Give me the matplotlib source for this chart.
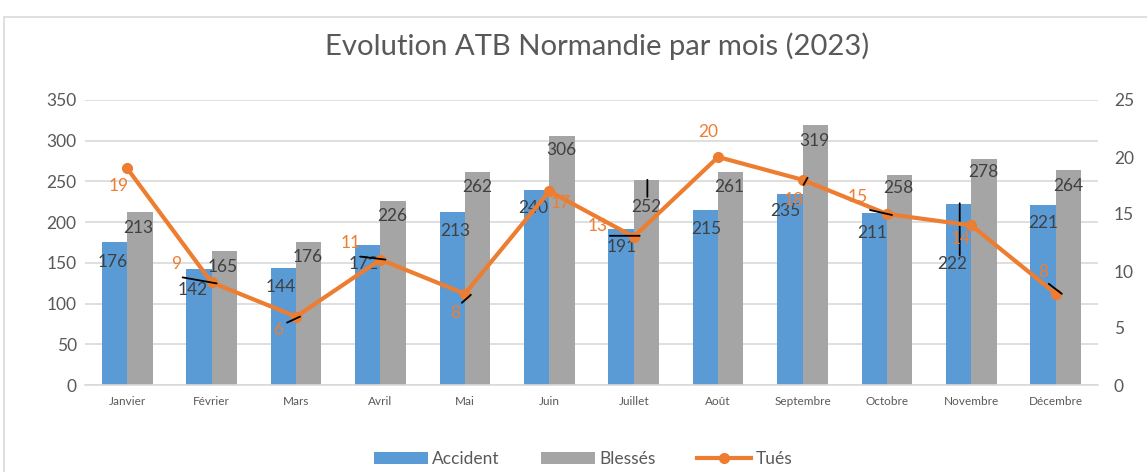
import matplotlib
matplotlib.use("Agg")
import matplotlib.pyplot as plt
import numpy as np
from matplotlib.patches import Rectangle
from matplotlib.transforms import ScaledTranslation
from matplotlib.lines import Line2D
from matplotlib.patches import Patch

plt.rcParams['font.family'] = ['Lato', 'DejaVu Sans']

months = ["Janvier", "Février", "Mars", "Avril", "Mai", "Juin", "Juillet",
          "Août", "Septembre", "Octobre", "Novembre", "Décembre"]
accident = [176, 142, 144, 172, 213, 240, 191, 215, 235, 211, 222, 221]
blesses = [213, 165, 176, 226, 262, 306, 252, 261, 319, 258, 278, 264]
tues = [19, 9, 6, 11, 8, 17, 13, 20, 18, 15, 14, 8]
left_ticks = [0, 50, 100, 150, 200, 250, 300, 350]
right_ticks = [0, 5, 10, 15, 20, 25]
title = "Evolution ATB Normandie par mois (2023)"

BLUE = "#5B9BD5"
GRAY = "#A5A5A5"
ORANGE = "#ED7D31"
LBL = "#404040"
TICK = "#595959"
GRID = "#D9D9D9"

# label offsets in pixels (dx right, dy down) from anchor
acc_off = [(-2, 20), (-6, 21), (-3, 19), (-4, 19), (3, 19), (-3, 18), (1, 18),
           (1, 19), (-5, 17), (-2, 20), (-6, 60), (0, 18)]
bl_off = [(-2, 16), (-2, 16), (-1, 15), (-1, 15), (0, 15), (-1, 14), (0, 27),
          (-2, 15), (-1, 16), (-1, 13), (-1, 13), (0, 16)]
tu_off = [(-9, 18), (-35, -18), (-18, 13), (-30, -17), (-10, 19), (11, 12),
          (-36, -11), (-10, -25), (-9, 20), (-29, -17), (-11, 14), (-13, -22)]
# leader lines: (series, month index, dx1, dy1, dx2, dy2)
leaders = [("t", 1, -29, -5, 5, 1), ("t", 2, -9, 6, 4, 0), ("t", 3, -20, -3, 5, 0),
           ("t", 4, -3, 9, 6, 1), ("t", 6, -24, -1, 6, -1), ("b", 6, 1, 0, 1, 17),
           ("t", 8, 1, 5, 5, -2), ("t", 9, -17, -4, 5, 1), ("a", 10, 1, -1, 1, 51),
           ("t", 11, -7, -10, 6, 0)]

W, H = 1147, 472
fig = plt.figure(figsize=(W / 100, H / 100), dpi=100)
fig.patch.set_facecolor("white")

# chart border
fig.add_artist(Rectangle((4 / W, -0.1), 1.2, 1 - 17 / H + 0.1, transform=fig.transFigure,
                         fill=False, edgecolor=GRID, lw=1.2))

ax = fig.add_axes([85 / W, 1 - 385 / H, (1098 - 85) / W, (385 - 100) / H])
ax2 = ax.twinx()

x = np.arange(len(months))
bw = 0.3
ax.bar(x - bw / 2, accident, bw, color=BLUE, zorder=2, label="Accident")
ax.bar(x + bw / 2, blesses, bw, color=GRAY, zorder=2, label="Blessés")
ax.set_xlim(-0.5, len(months) - 0.5)
ax.set_ylim(0, 350)
ax.set_yticks(left_ticks)
ax.yaxis.grid(True, color=GRID, lw=1.2, zorder=0)
ax.set_axisbelow(True)
for s in ["top", "right", "left"]:
    ax.spines[s].set_visible(False)
ax.spines["bottom"].set_color(GRID)
ax.spines["bottom"].set_linewidth(1.2)
ax.tick_params(axis="y", length=0, labelsize=12.5, labelcolor=TICK, pad=6)
ax.set_xticks(x)
ax.set_xticklabels(months)
ax.tick_params(axis="x", length=0, labelsize=8.5, labelcolor=TICK, pad=8)

ax2.plot(x, tues, color=ORANGE, lw=3, marker="o", markersize=7, zorder=3)
ax2.set_ylim(0, 25)
ax2.set_yticks(right_ticks)
for s in ["top", "right", "left", "bottom"]:
    ax2.spines[s].set_visible(False)
ax2.tick_params(axis="y", length=0, labelsize=12.5, labelcolor=TICK, pad=11.5)

def off_px(dx, dy):
    return (dx, -dy)

for i in range(len(months)):
    dx, dy = acc_off[i]
    ax.annotate(str(accident[i]), xy=(x[i] - bw / 2, accident[i]), xytext=off_px(dx, dy),
                textcoords="offset pixels", ha="center", va="center", fontsize=12.5,
                color=LBL, zorder=5)
    dx, dy = bl_off[i]
    ax.annotate(str(blesses[i]), xy=(x[i] + bw / 2, blesses[i]), xytext=off_px(dx, dy),
                textcoords="offset pixels", ha="center", va="center", fontsize=12.5,
                color=LBL, zorder=5)
    dx, dy = tu_off[i]
    ax2.annotate(str(tues[i]), xy=(x[i], tues[i]), xytext=off_px(dx, dy),
                 textcoords="offset pixels", ha="center", va="center", fontsize=12.5,
                 color=ORANGE, zorder=5)

for ser, i, dx1, dy1, dx2, dy2 in leaders:
    if ser == "t":
        axx, pt = ax2, (x[i], tues[i])
    elif ser == "a":
        axx, pt = ax, (x[i] - bw / 2, accident[i])
    else:
        axx, pt = ax, (x[i] + bw / 2, blesses[i])
    tr = axx.transData + ScaledTranslation(dx1 / 100, -dy1 / 100, fig.dpi_scale_trans)
    axx.annotate("", xy=pt, xycoords=tr, xytext=(dx2 - dx1, -(dy2 - dy1)),
                 textcoords="offset pixels",
                 arrowprops=dict(arrowstyle="-", color="black", lw=1.3,
                                 shrinkA=0, shrinkB=0), zorder=6)

fig.text(597 / W, 1 - 46 / H, title, ha="center", va="center", fontsize=21.1, color="#595959")

handles = [Patch(facecolor=BLUE), Patch(facecolor=GRAY),
           Line2D([0], [0], color=ORANGE, lw=3, marker="o", markersize=7)]
fig.legend(handles, ["Accident", "Blessés", "Tués"], loc="center",
           bbox_to_anchor=(583 / W, 1 - 459 / H), ncol=3, frameon=False, fontsize=12.5,
           handlelength=3.1, handleheight=0.7, columnspacing=2.4, handletextpad=0.25,
           labelcolor=TICK)

fig.savefig("out.png", dpi=100)
